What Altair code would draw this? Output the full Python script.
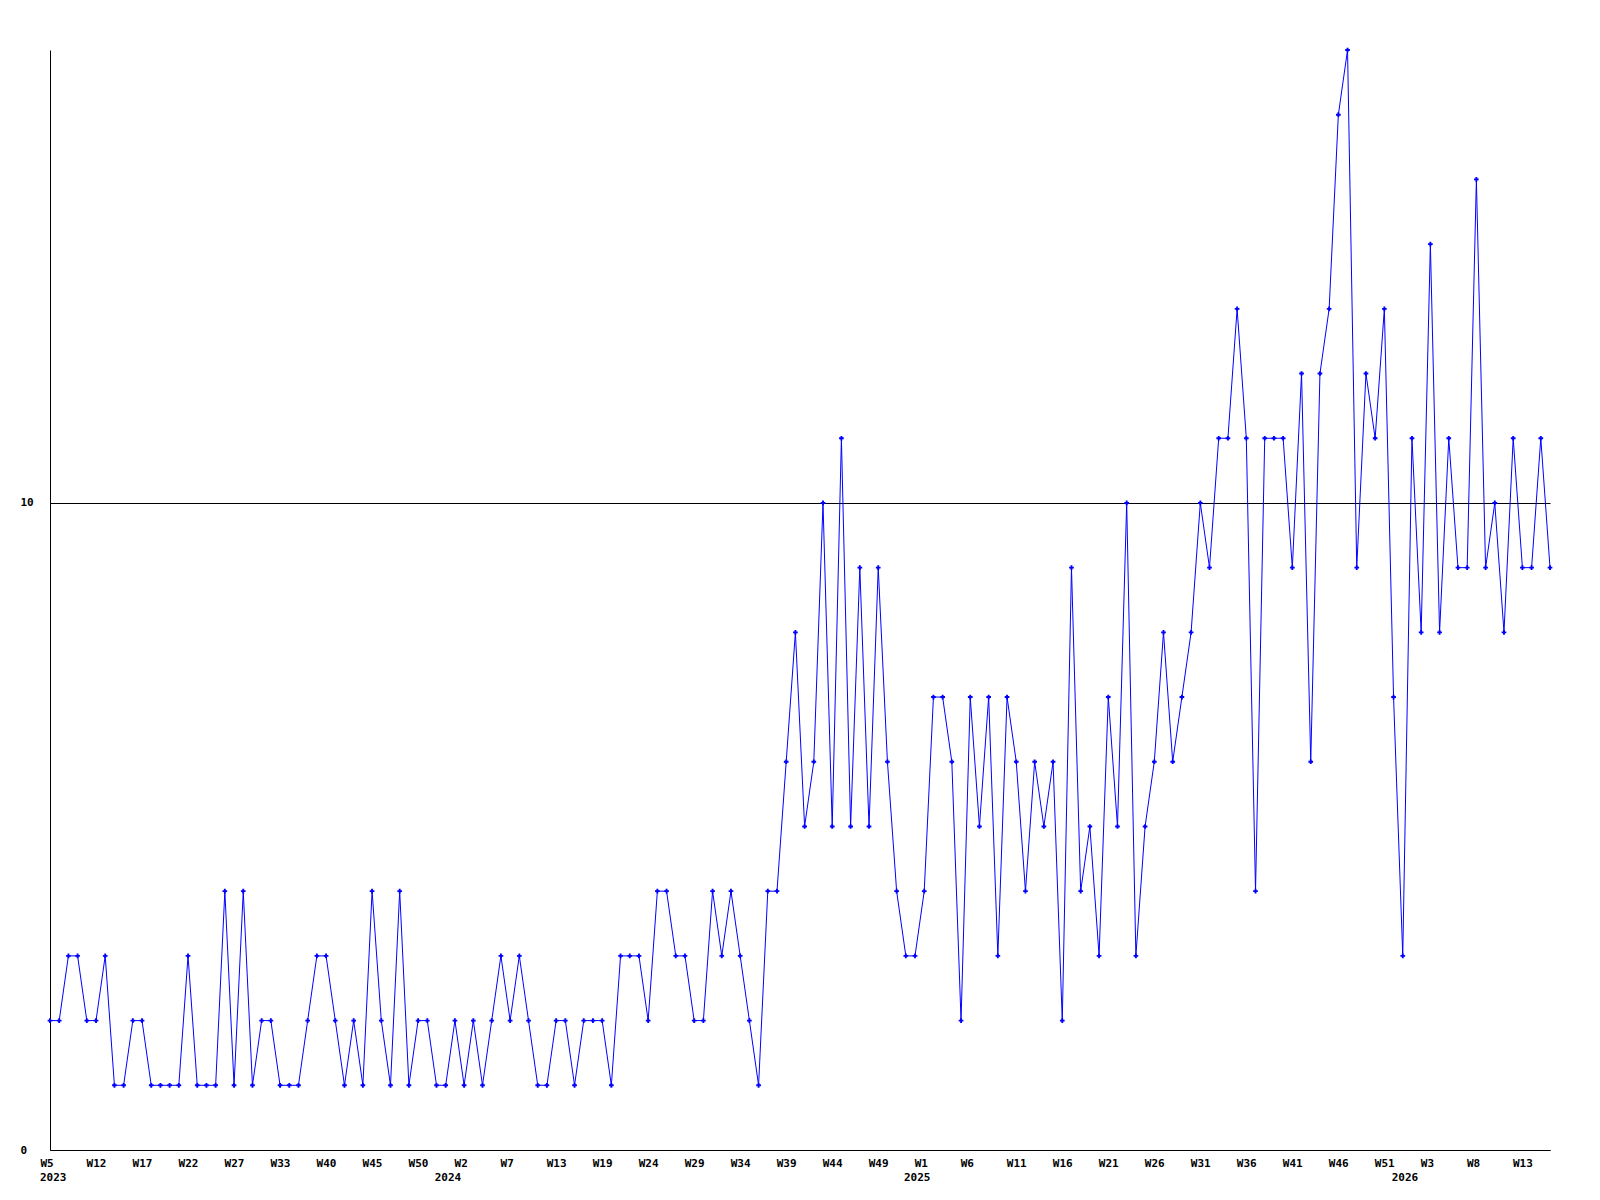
import altair as alt
import pandas as pd

# Year / week categories (one entry per plotted week)
years = ["2023", "2024", "2025", "2026"]
weeks_by_year = [
    [5, 6, 8, 9, 11] + list(range(12, 31)) + [32, 33, 34, 35, 37, 38] + list(range(40, 54)),
    list(range(1, 11)) + [12, 13, 14, 15, 16, 18, 19] + list(range(20, 54)),
    list(range(1, 54)),
    list(range(1, 17)),
]

values = [
    2, 2, 3, 3, 2, 2, 3, 1, 1, 2,
    2, 1, 1, 1, 1, 3, 1, 1, 1, 4,
    1, 4, 1, 2, 2, 1, 1, 1, 2, 3,
    3, 2, 1, 2, 1, 4, 2, 1, 4, 1,
    2, 2, 1, 1, 2, 1, 2, 1, 2, 3,
    2, 3, 2, 1, 1, 2, 2, 1, 2, 2,
    2, 1, 3, 3, 3, 2, 4, 4, 3, 3,
    2, 2, 4, 3, 4, 3, 2, 1, 4, 4,
    6, 8, 5, 6, 10, 5, 11, 5, 9, 5,
    9, 6, 4, 3, 3, 4, 7, 7, 6, 2,
    7, 5, 7, 3, 7, 6, 4, 6, 5, 6,
    2, 9, 4, 5, 3, 7, 5, 10, 3, 5,
    6, 8, 6, 7, 8, 10, 9, 11, 11, 13,
    11, 4, 11, 11, 11, 9, 12, 6, 12, 13,
    16, 17, 9, 12, 11, 13, 7, 3, 11, 8,
    14, 8, 11, 9, 9, 15, 9, 10, 8, 11,
    9, 9, 11, 9,
]

y_ticks = [0, 10]

keys = []
for yr, ws in zip(years, weeks_by_year):
    for w in ws:
        keys.append(f"{yr}|W{w}")

df = pd.DataFrame({"key": keys, "value": values})

# year label anchored at week 1 of each year (first week for 2023)
year_keys = []
for yr, ws in zip(years, weeks_by_year):
    first = 1 if 1 in ws else ws[0]
    year_keys.append(f"{yr}|W{first}")
year_df = pd.DataFrame({"key": year_keys, "year": years})
first_year_df = year_df.iloc[:1]
other_year_df = year_df.iloc[1:]

FONT = "DejaVu Sans Mono"
BLUE = "#0000ff"

x_scale = alt.Scale(type="point", padding=0, domain=keys)

x_enc = alt.X(
    "key:O",
    sort=None,
    scale=x_scale,
    axis=alt.Axis(
        title=None,
        values=keys[::5],
        labelExpr="split(datum.label, '|')[1]",
        labelAngle=0,
        labelAlign="left",
        labelOffset=-10,
        labelPadding=7,
        labelBaseline="top",
        labelOverlap=False,
        labelFlush=False,
        labelBound=False,
        ticks=False,
        tickSize=0,
        grid=False,
        domainColor="black",
        domainWidth=1,
        labelFont=FONT,
        labelFontWeight="bold",
        labelFontSize=11,
        labelColor="black",
    ),
)

y_enc = alt.Y(
    "value:Q",
    scale=alt.Scale(domain=[0, 17], nice=False, zero=True),
    axis=alt.Axis(
        title=None,
        values=y_ticks,
        format="d",
        labelAlign="left",
        labelPadding=30,
        labelBaseline="middle",
        ticks=False,
        tickSize=0,
        grid=True,
        gridColor="black",
        gridOpacity=1,
        gridWidth=1,
        domainColor="black",
        domainWidth=1,
        labelFont=FONT,
        labelFontWeight="bold",
        labelFontSize=11,
        labelColor="black",
    ),
)

line = alt.Chart(df).mark_line(color=BLUE, strokeWidth=1).encode(x=x_enc, y=y_enc)
pts = alt.Chart(df).mark_point(
    shape="cross", filled=True, size=22, color=BLUE, opacity=1
).encode(x=x_enc, y=y_enc)

text_style = dict(baseline="top", font=FONT, fontWeight="bold", fontSize=11, color="black")

year_first = alt.Chart(first_year_df).mark_text(align="left", dx=-10, **text_style).encode(
    x=alt.X("key:O", sort=None, scale=x_scale),
    y=alt.value(1122),
    text="year:N",
)
year_rest = alt.Chart(other_year_df).mark_text(align="center", dx=-7, **text_style).encode(
    x=alt.X("key:O", sort=None, scale=x_scale),
    y=alt.value(1122),
    text="year:N",
)

chart = (
    alt.layer(line, pts, year_first, year_rest)
    .properties(
        width=1500,
        height=1100,
        autosize=alt.AutoSizeParams(type="none"),
        padding={"left": 42, "top": 42, "right": 41, "bottom": 50},
        background="white",
    )
    .configure_view(stroke=None)
)

chart.save("out.html", embed_options={"renderer": "svg", "actions": False})
